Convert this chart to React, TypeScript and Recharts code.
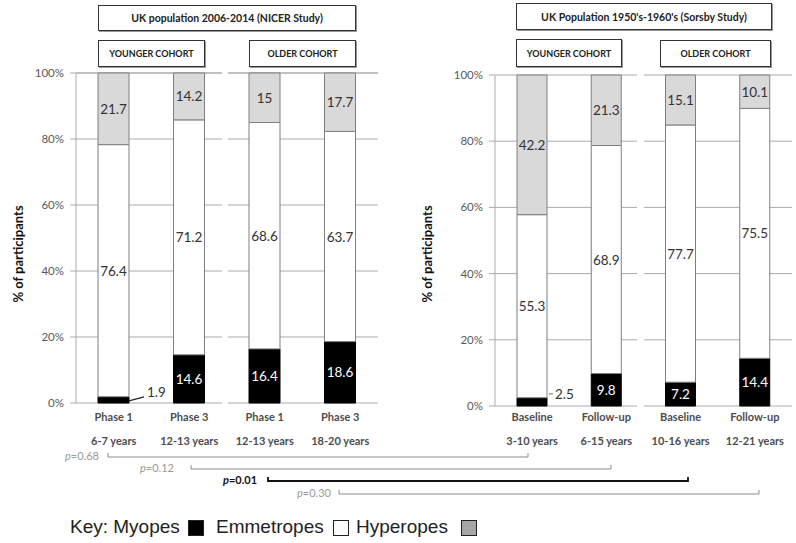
import React from 'react';
import { BarChart, Bar, XAxis, YAxis, CartesianGrid, LabelList } from 'recharts';

// NICER study (2006-2014)
const nicerPhases = ['Phase 1', 'Phase 3', 'Phase 1', 'Phase 3'];
const nicerAges = ['6-7 years', '12-13 years', '12-13 years', '18-20 years'];
const nicerMyopes = [1.9, 14.6, 16.4, 18.6];
const nicerEmmetropes = [76.4, 71.2, 68.6, 63.7];
const nicerHyperopes = [21.7, 14.2, 15, 17.7];

// Sorsby study (1950's-1960's)
const sorsbyPhases = ['Baseline', 'Follow-up', 'Baseline', 'Follow-up'];
const sorsbyAges = ['3-10 years', '6-15 years', '10-16 years', '12-21 years'];
const sorsbyMyopes = [2.5, 9.8, 7.2, 14.4];
const sorsbyEmmetropes = [55.3, 68.9, 77.7, 75.5];
const sorsbyHyperopes = [42.2, 21.3, 15.1, 10.1];

const yTicks = [0, 20, 40, 60, 80, 100];
const pValues = ['0.68', '0.12', '0.01', '0.30'];

const nicerData = nicerPhases.map((phase, i) => ({
  phase,
  age: nicerAges[i],
  myopes: nicerMyopes[i],
  emmetropes: nicerEmmetropes[i],
  hyperopes: nicerHyperopes[i],
}));

const sorsbyData = sorsbyPhases.map((phase, i) => ({
  phase,
  age: sorsbyAges[i],
  myopes: sorsbyMyopes[i],
  emmetropes: sorsbyEmmetropes[i],
  hyperopes: sorsbyHyperopes[i],
}));

const FONT = "Lato, 'Open Sans', sans-serif";
const GRID = '#ababab';
const EDGE = '#7f7f7f';

const segLabel = (fill: string) => (props: any) => {
  const { x, y, width, height, value } = props;
  return (
    <text x={x + width / 2} y={y + height / 2} textAnchor="middle" dominantBaseline="central"
      fill={fill} fontSize={13.5} fontFamily={FONT}>
      {value}
    </text>
  );
};

// black segments; very small ones get an outside label with a leader line
const myopeLabel = (slanted: boolean) => (props: any) => {
  const { x, y, width, height, value } = props;
  const cx = x + width / 2;
  const cy = y + height / 2;
  if (value >= 5) {
    return (
      <text x={cx} y={cy} textAnchor="middle" dominantBaseline="central" fill="#fff"
        fontSize={13.5} fontFamily={FONT}>
        {value}
      </text>
    );
  }
  const right = x + width;
  const ty = cy - 8;
  return (
    <g>
      {slanted ? (
        <line x1={right} y1={cy + 1} x2={right + 15} y2={cy - 3} stroke="#222" strokeWidth={1.2} />
      ) : (
        <line x1={right + 2} y1={ty} x2={right + 6} y2={ty} stroke="#666" strokeWidth={1} />
      )}
      <text x={right + (slanted ? 18 : 8)} y={ty} dominantBaseline="central" fill="#333"
        fontSize={13.5} fontFamily={FONT}>
        {value}
      </text>
    </g>
  );
};

const xTick = (ages: string[], dy1: number, dy2: number) => (props: any) => {
  const { x, y, payload, index } = props;
  return (
    <g>
      <text x={x} y={y + dy1} textAnchor="middle" dominantBaseline="central" fill="#4d4d4d"
        fontSize={11} fontWeight={700} fontFamily={FONT}>
        {payload.value}
      </text>
      <text x={x} y={y + dy2} textAnchor="middle" dominantBaseline="central" fill="#4d4d4d"
        fontSize={11} fontWeight={700} fontFamily={FONT}>
        {ages[index]}
      </text>
    </g>
  );
};

const Panel = (props: {
  data: any[];
  ages: string[];
  width: number;
  axisWidth: number;
  margin: { top: number; right: number; bottom: number; left: number };
  barSize: number;
  labelX: number;
  slanted: boolean;
  tickDy: [number, number];
}) => (
  <BarChart width={props.width} height={543} data={props.data} margin={props.margin}>
    <CartesianGrid vertical={false} stroke={GRID} strokeOpacity={1} />
    <XAxis dataKey="phase" axisLine={false} tickLine={false} tickSize={0} tickMargin={0} height={50}
      interval={0} tick={xTick(props.ages, props.tickDy[0], props.tickDy[1])} />
    <YAxis domain={[0, 100]} ticks={yTicks} width={props.axisWidth} tickFormatter={(v) => `${v}%`}
      axisLine={{ stroke: GRID }} tickLine={{ stroke: GRID }} tickSize={6} tickMargin={6}
      tick={{ fill: '#595959', fontSize: 11.5, fontFamily: FONT }}
      label={{
        content: () => (
          <text x={props.labelX} y={254} transform={`rotate(-90 ${props.labelX} 254)`} textAnchor="middle"
            dominantBaseline="central" fill="#111" fontSize={13} fontWeight={700} fontFamily={FONT}>
            % of participants
          </text>
        ),
      }} />
    <Bar dataKey="myopes" stackId="a" fill="#000" stroke="#000" barSize={props.barSize} isAnimationActive={false}>
      <LabelList dataKey="myopes" content={myopeLabel(props.slanted)} />
    </Bar>
    <Bar dataKey="emmetropes" stackId="a" fill="#fff" stroke={EDGE} barSize={props.barSize} isAnimationActive={false}>
      <LabelList dataKey="emmetropes" content={segLabel('#333')} />
    </Bar>
    <Bar dataKey="hyperopes" stackId="a" fill="#d9d9d9" stroke={EDGE} barSize={props.barSize} isAnimationActive={false}>
      <LabelList dataKey="hyperopes" content={segLabel('#333')} />
    </Bar>
  </BarChart>
);

const boxStyle = (left: number, top: number, width: number, height: number, size: number): React.CSSProperties => ({
  position: 'absolute',
  left,
  top,
  width,
  height,
  boxSizing: 'border-box',
  border: '1px solid #333',
  boxShadow: '1px 1px 0 #999',
  background: '#fff',
  display: 'flex',
  alignItems: 'center',
  justifyContent: 'center',
  fontFamily: FONT,
  fontWeight: 700,
  fontSize: size,
  color: '#222',
  whiteSpace: 'nowrap',
});

// comparison brackets between the two studies
const brackets = [
  { tx: 65, x1: 108, x2: 528, y: 457, color: '#8c8c8c', w: 1, bold: false },
  { tx: 140, x1: 191, x2: 611, y: 469, color: '#8c8c8c', w: 1, bold: false },
  { tx: 223, x1: 268, x2: 688, y: 481, color: '#111', w: 1.8, bold: true },
  { tx: 297, x1: 339, x2: 759, y: 494, color: '#8c8c8c', w: 1, bold: false },
];

const keyText: React.CSSProperties = {
  position: 'absolute',
  top: 515,
  fontFamily: "'Liberation Sans', Arial, sans-serif",
  fontSize: 19,
  color: '#222',
  whiteSpace: 'nowrap',
  lineHeight: '24px',
};

const square = (left: number, fill: string): React.CSSProperties => ({
  position: 'absolute',
  left,
  top: 520,
  width: 16,
  height: 16,
  boxSizing: 'border-box',
  background: fill,
  border: '1px solid #222',
});

export default function App() {
  return (
    <div style={{ position: 'absolute', left: 0, top: 0, width: 796, height: 543, background: '#fff', overflow: 'hidden' }}>
      <div style={{ position: 'absolute', left: 0, top: 0 }}>
        <Panel data={nicerData} ages={nicerAges} width={400} axisWidth={76}
          margin={{ top: 73, right: 22, bottom: 90, left: 0 }} barSize={31} labelX={18} slanted
          tickDy={[13, 37]} />
      </div>
      <div style={{ position: 'absolute', left: 400, top: 0 }}>
        <Panel data={sorsbyData} ages={sorsbyAges} width={396} axisWidth={95}
          margin={{ top: 75, right: 4, bottom: 87, left: 0 }} barSize={30} labelX={27} slanted={false}
          tickDy={[10, 34]} />
      </div>

      <div style={boxStyle(98, 5, 258, 26, 10.5)}>UK population 2006-2014 (NICER Study)</div>
      <div style={boxStyle(98, 40, 107, 27, 9)}>YOUNGER COHORT</div>
      <div style={boxStyle(249, 40, 107, 27, 9)}>OLDER COHORT</div>
      <div style={boxStyle(516, 3, 256, 27, 10.5)}>UK Population 1950's-1960's (Sorsby Study)</div>
      <div style={boxStyle(516, 39, 106, 28, 9)}>YOUNGER COHORT</div>
      <div style={boxStyle(660, 40, 111, 27, 9)}>OLDER COHORT</div>

      <svg width={796} height={543} style={{ position: 'absolute', left: 0, top: 0, pointerEvents: 'none' }}>
        {/* gaps in the grid between the two cohorts */}
        <rect x={222} y={68} width={6} height={338} fill="#fff" />
        <rect x={637} y={70} width={7} height={340} fill="#fff" />
        {brackets.map((b, i) => (
          <g key={i}>
            <polyline points={`${b.x1},${b.y - 4} ${b.x1},${b.y} ${b.x2},${b.y} ${b.x2},${b.y - 4}`}
              fill="none" stroke={b.color} strokeWidth={b.w} />
            <text x={b.tx} y={b.y - 2} dominantBaseline="central" fontFamily={FONT} fontSize={11}
              fill={b.bold ? '#111' : '#9a9a9a'} fontWeight={b.bold ? 700 : 400}>
              <tspan fontStyle="italic">p</tspan>={pValues[i]}
            </text>
          </g>
        ))}
      </svg>

      <div style={{ ...keyText, left: 70 }}>Key: Myopes</div>
      <div style={square(188, '#000')} />
      <div style={{ ...keyText, left: 216 }}>Emmetropes</div>
      <div style={square(333, '#fff')} />
      <div style={{ ...keyText, left: 356 }}>Hyperopes</div>
      <div style={square(461, '#a6a6a6')} />
    </div>
  );
}
